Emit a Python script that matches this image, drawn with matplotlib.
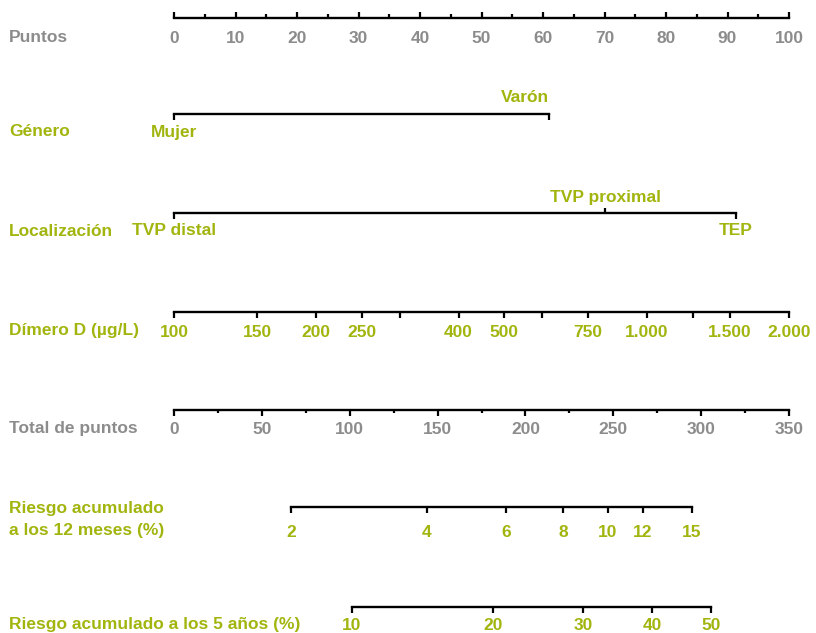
import matplotlib.pyplot as plt
from matplotlib.ticker import FixedLocator, NullFormatter

plt.rcParams['font.family'] = ['Liberation Sans', 'DejaVu Sans']
plt.rcParams['font.weight'] = 'bold'

GREEN = '#a2b50f'
GREY = '#8c8c8c'

# puntos (escala superior)
puntos_major = [0, 10, 20, 30, 40, 50, 60, 70, 80, 90, 100]
puntos_minor = [5, 15, 25, 35, 45, 55, 65, 75, 85, 95]

# genero: categorias y puntos
genero_cats = ['Mujer', 'Varón']
genero_pts = [0, 61.0]

# localizacion: categorias y puntos
loc_cats = ['TVP distal', 'TVP proximal', 'TEP']
loc_pts = [0, 70.1, 91.4]

# dimero D (escala log)
dimero_ticks = [100, 150, 200, 250, 300, 400, 500, 600, 750, 1000, 1250, 1500, 2000]
dimero_labels = ['100', '150', '200', '250', '', '400', '500', '', '750', '1.000', '', '1.500', '2.000']

# total de puntos
total_major = [0, 50, 100, 150, 200, 250, 300, 350]
total_minor = [25, 75, 125, 175, 225, 275, 325]

# riesgo a 12 meses: etiqueta y posicion en total de puntos
r12_labels = ['2', '4', '6', '8', '10', '12', '15']
r12_pos = [66.6, 144.0, 188.9, 221.4, 247.0, 266.9, 294.8]

# riesgo a 5 anos
r5_labels = ['10', '20', '30', '40', '50']
r5_pos = [101.3, 181.5, 232.8, 272.0, 305.6]

W_PX, H_PX = 816, 633
fig = plt.figure(figsize=(W_PX / 100, H_PX / 100), dpi=100)
L = 174 / W_PX
AW = (789 - 174) / W_PX
FS = 12.5


def make_axis(y_px, xlim, scale='linear'):
    ax = fig.add_axes([L, 1 - y_px / H_PX, AW, 0.0001])
    ax.set_xscale(scale)
    ax.set_xlim(xlim)
    ax.set_ylim(0, 1)
    for s in ['top', 'left', 'right']:
        ax.spines[s].set_visible(False)
    ax.spines['bottom'].set_linewidth(1.7)
    ax.spines['bottom'].set_capstyle('projecting')
    ax.set_yticks([])
    ax.patch.set_visible(False)
    ax.xaxis.set_minor_locator(FixedLocator([]))
    ax.xaxis.set_minor_formatter(NullFormatter())
    return ax


def row_title(text, y_px, color, ls=1.3):
    fig.text(9 / W_PX, 1 - y_px / H_PX, text, color=color, fontsize=FS,
             fontweight='bold', ha='left', va='center', linespacing=ls)


# Puntos
ax = make_axis(18, (0, 100))
ax.set_xticks(puntos_major)
ax.set_xticklabels([str(v) for v in puntos_major])
ax.xaxis.set_minor_locator(FixedLocator(puntos_minor))
ax.tick_params(which='major', direction='in', length=4.5, width=1.6, pad=9.5,
               labelsize=FS, labelcolor=GREY)
ax.tick_params(which='minor', direction='in', length=3, width=1.6)
row_title('Puntos', 37, GREY)

# Genero
ax = make_axis(114, (0, 100))
ax.spines['bottom'].set_bounds(genero_pts[0], genero_pts[-1])
ax.set_xticks(genero_pts)
ax.set_xticklabels([])
ax.tick_params(which='major', direction='out', length=4, width=1.6)
ax.annotate(genero_cats[0], xy=(genero_pts[0], 0), xycoords=('data', 'axes fraction'),
            xytext=(0, -8), textcoords='offset points', ha='center', va='top',
            color=GREEN, fontsize=FS, fontweight='bold')
ax.annotate(genero_cats[1], xy=(genero_pts[1], 0), xycoords=('data', 'axes fraction'),
            xytext=(0, 6.5), textcoords='offset points', ha='right', va='bottom',
            color=GREEN, fontsize=FS, fontweight='bold')
row_title('Género', 131, GREEN)

# Localizacion
ax = make_axis(213, (0, 100))
ax.spines['bottom'].set_bounds(loc_pts[0], loc_pts[-1])
ax.set_xticks([loc_pts[0], loc_pts[2]])
ax.set_xticklabels([])
ax.xaxis.set_minor_locator(FixedLocator([loc_pts[1]]))
ax.tick_params(which='major', direction='out', length=4, width=1.6)
ax.tick_params(which='minor', direction='in', length=3.5, width=1.6)
for i, (c, p) in enumerate(zip(loc_cats, loc_pts)):
    above = i == 1
    ax.annotate(c, xy=(p, 0), xycoords=('data', 'axes fraction'),
                xytext=(0, 5.5 if above else -7.5), textcoords='offset points',
                ha='center', va='bottom' if above else 'top',
                color=GREEN, fontsize=FS, fontweight='bold')
row_title('Localización', 231, GREEN)

# Dimero D
ax = make_axis(312, (100, 2000), scale='log')
ax.set_xticks(dimero_ticks)
ax.set_xticklabels(dimero_labels)
ax.xaxis.set_minor_locator(FixedLocator([]))
ax.tick_params(which='major', direction='out', length=4.5, width=1.6, pad=5,
               labelsize=FS, labelcolor=GREEN)
row_title('Dímero D (µg/L)', 331, GREEN)

# Total de puntos
ax = make_axis(410, (0, 350))
ax.set_xticks(total_major)
ax.set_xticklabels([str(v) for v in total_major])
ax.xaxis.set_minor_locator(FixedLocator(total_minor))
ax.tick_params(which='major', direction='out', length=4, width=1.6, pad=5,
               labelsize=FS, labelcolor=GREY)
ax.tick_params(which='minor', direction='out', length=2.5, width=1.6)
row_title('Total de puntos', 428, GREY)

# Riesgo 12 meses
ax = make_axis(507, (0, 350))
ax.spines['bottom'].set_bounds(r12_pos[0], r12_pos[-1])
ax.set_xticks(r12_pos)
ax.set_xticklabels(r12_labels)
ax.tick_params(which='major', direction='out', length=4.5, width=1.6, pad=8.5,
               labelsize=FS, labelcolor=GREEN)
row_title('Riesgo acumulado\na los 12 meses (%)', 519.5, GREEN, ls=1.5)

# Riesgo 5 anos
ax = make_axis(607, (0, 350))
ax.spines['bottom'].set_bounds(r5_pos[0], r5_pos[-1])
ax.set_xticks(r5_pos)
ax.set_xticklabels(r5_labels)
ax.tick_params(which='major', direction='out', length=4.5, width=1.6, pad=3.5,
               labelsize=FS, labelcolor=GREEN)
row_title('Riesgo acumulado a los 5 años (%)', 624, GREEN)

fig.savefig('out.png', dpi=100)
